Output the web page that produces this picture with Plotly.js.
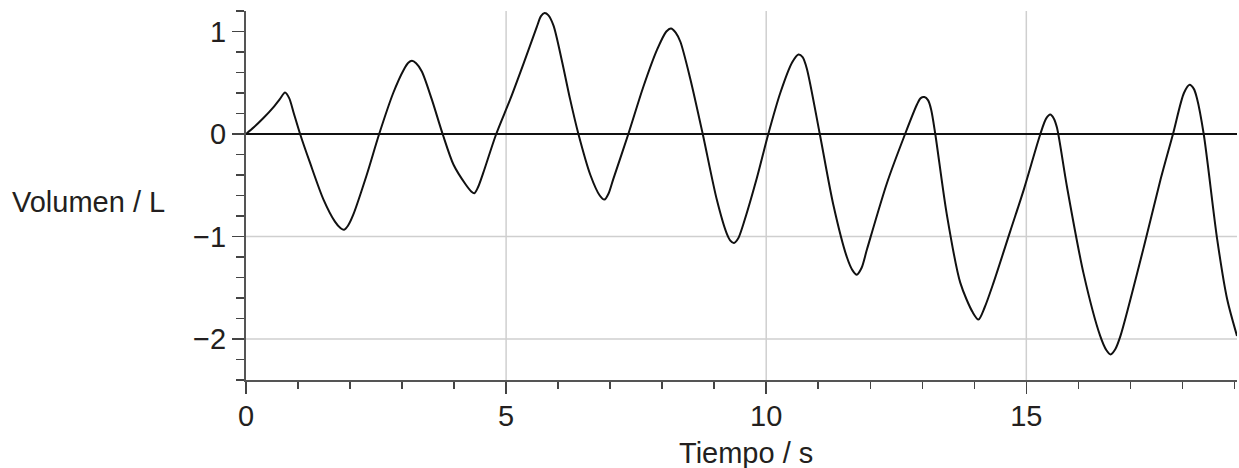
<!DOCTYPE html>
<html>
<head>
<meta charset="utf-8">
<script src="https://cdn.plot.ly/plotly-3.0.1.min.js"></script>
<style>
html,body{margin:0;padding:0;background:#fff;}
#chart{width:1239px;height:468px;}
</style>
</head>
<body>
<div id="chart"></div>
<script>
// Time (s)
const tiempo = [
  0, 0.15, 0.33, 0.525, 0.65, 0.75, 0.83, 0.92, 1.04, 1.23, 1.49, 1.71, 1.82, 1.885, 1.96, 2.06, 2.32, 2.56,
  2.83, 3.03, 3.12, 3.19, 3.27, 3.38, 3.57, 3.78, 3.99, 4.22, 4.33, 4.39, 4.46, 4.56, 4.81,
  5.08, 5.33, 5.59, 5.67, 5.74, 5.81, 5.91, 6.07, 6.23, 6.39, 6.62, 6.80, 6.89, 6.97, 7.06, 7.35,
  7.64, 7.90, 8.08, 8.17, 8.26, 8.35, 8.54, 8.78, 9.05, 9.24, 9.31, 9.38, 9.46, 9.56, 9.82, 10.04,
  10.27, 10.50, 10.62, 10.70, 10.78, 11.03, 11.29, 11.55, 11.66, 11.74, 11.83, 11.94, 12.32, 12.67,
  12.90, 12.97, 13.04, 13.11, 13.17, 13.25, 13.47, 13.73, 13.97, 14.08, 14.20, 14.37, 14.69, 14.95, 15.27,
  15.38, 15.46, 15.53, 15.59, 15.78, 16.10, 16.42, 16.54, 16.62, 16.71, 16.81, 17.26, 17.58, 17.82,
  18.03, 18.14, 18.22, 18.28, 18.41, 18.67, 18.86, 19.05
];
// Volume (L)
const volumen = [
  0, 0.065, 0.153, 0.26, 0.34, 0.405, 0.35, 0.20, 0, -0.28, -0.64, -0.855, -0.92, -0.934, -0.895, -0.79, -0.40, 0,
  0.40, 0.625, 0.695, 0.714, 0.69, 0.61, 0.34, 0, -0.30, -0.49, -0.56, -0.578, -0.52, -0.38, 0,
  0.34, 0.68, 1.045, 1.15, 1.18, 1.16, 1.06, 0.72, 0.34, 0, -0.40, -0.60, -0.64, -0.58, -0.44, 0,
  0.463, 0.82, 1.0, 1.03, 0.99, 0.90, 0.54, 0, -0.64, -0.97, -1.04, -1.064, -1.02, -0.88, -0.43, 0,
  0.40, 0.70, 0.776, 0.75, 0.64, 0, -0.69, -1.20, -1.33, -1.372, -1.31, -1.12, -0.48, 0,
  0.29, 0.35, 0.36, 0.33, 0.24, 0, -0.78, -1.45, -1.74, -1.81, -1.69, -1.45, -0.95, -0.545, 0,
  0.15, 0.19, 0.15, 0.06, -0.51, -1.36, -1.97, -2.11, -2.15, -2.10, -1.97, -1.10, -0.445, 0,
  0.40, 0.48, 0.44, 0.35, 0, -1.03, -1.61, -1.97
];
const xMajorTicks = [0, 5, 10, 15];
const yMajorTicks = [-2, -1, 0, 1];
const xGrid = [5, 10, 15];
const yGrid = [-1, -2];

const FONT = {family: '"Liberation Sans", Arial, sans-serif', size: 29, color: '#231f20'};

const shapes = [];
xGrid.forEach(v => shapes.push({type:'line', xref:'x', yref:'paper', x0:v, x1:v, y0:0, y1:1,
  line:{color:'#cfcfcf', width:1.5}, layer:'below'}));
yGrid.forEach(v => shapes.push({type:'line', xref:'paper', yref:'y', x0:0, x1:1, y0:v, y1:v,
  line:{color:'#cfcfcf', width:1.5}, layer:'below'}));

const trace = {
  x: tiempo, y: volumen, mode: 'lines', type: 'scatter',
  line: {color: '#111111', width: 2, shape: 'spline', smoothing: 0.8},
  hoverinfo: 'skip'
};

const layout = {
  width: 1239, height: 468,
  margin: {l: 246, r: 2, t: 11, b: 88},
  paper_bgcolor: '#ffffff', plot_bgcolor: '#ffffff',
  showlegend: false,
  font: FONT,
  xaxis: {
    range: [0, 19.05], tickmode: 'array', tickvals: xMajorTicks,
    ticks: 'outside', ticklen: 12, tickwidth: 1.5, tickcolor: '#444',
    showline: true, linecolor: '#555', linewidth: 2,
    showgrid: false, zeroline: false,
    tickfont: FONT, ticklabelstandoff: -3,
    minor: {dtick: 1, tick0: 0, ticks: 'outside', ticklen: 7, tickwidth: 1.5, tickcolor: '#444', showgrid: false}
  },
  yaxis: {
    range: [-2.4, 1.2], tickmode: 'array', tickvals: yMajorTicks,
    ticks: 'outside', ticklen: 12, tickwidth: 1.5, tickcolor: '#444',
    showline: true, linecolor: '#555', linewidth: 2,
    showgrid: false, zeroline: true, zerolinecolor: '#111', zerolinewidth: 1.5,
    tickfont: FONT,
    minor: {dtick: 0.2, tick0: 0, ticks: 'outside', ticklen: 8, tickwidth: 1.5, tickcolor: '#444', showgrid: false}
  },
  shapes: shapes,
  annotations: [
    {text: 'Volumen / L', xref: 'paper', yref: 'paper', x: -0.238, y: 0.482,
     xanchor: 'left', yanchor: 'middle', showarrow: false, font: FONT},
    {text: 'Tiempo / s', xref: 'paper', yref: 'paper', x: 0.505, y: -0.198,
     xanchor: 'center', yanchor: 'middle', showarrow: false, font: FONT}
  ]
};

Plotly.newPlot('chart', [trace], layout, {staticPlot: true, displayModeBar: false});
</script>
</body>
</html>
